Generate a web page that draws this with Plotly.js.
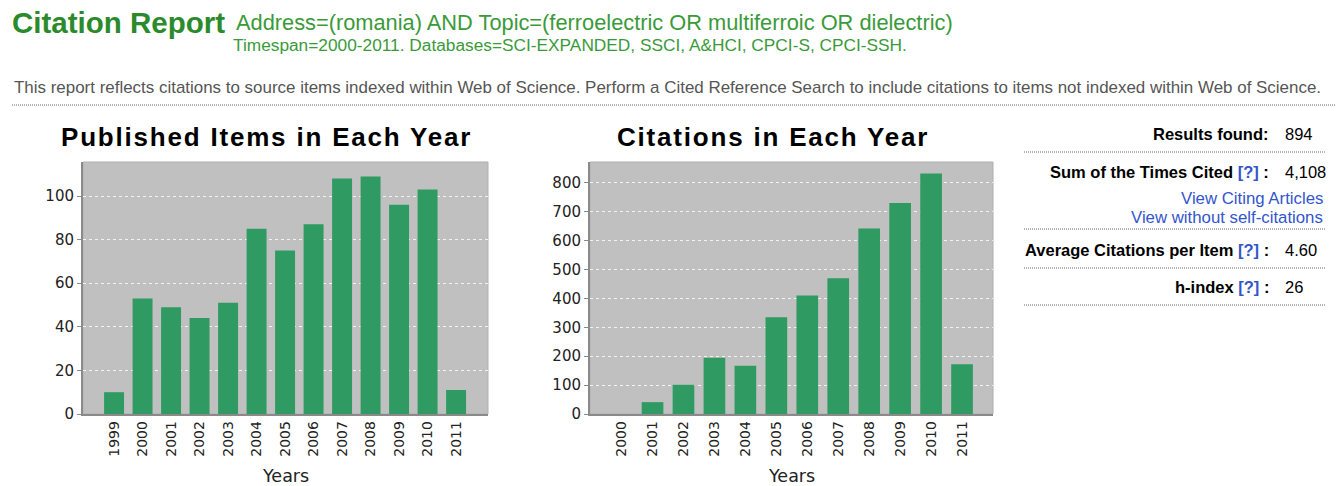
<!DOCTYPE html>
<html>
<head>
<meta charset="utf-8">
<script src="https://cdn.plot.ly/plotly-3.0.1.min.js"></script>
<style>
html,body{margin:0;padding:0;background:#fff;}
#chart{width:1339px;height:486px;}
</style>
</head>
<body>
<div id="chart"></div>
<script>
// ---- data ----
var pubYears = ["1999","2000","2001","2002","2003","2004","2005","2006","2007","2008","2009","2010","2011"];
var pubCounts = [10, 53, 49, 44, 51, 85, 75, 87, 108, 109, 96, 103, 11];
var citYears = ["2000","2001","2002","2003","2004","2005","2006","2007","2008","2009","2010","2011"];
var citCounts = [0, 41, 101, 195, 167, 335, 410, 470, 642, 730, 832, 172];
var pubTicks = [0, 20, 40, 60, 80, 100];
var citTicks = [0, 100, 200, 300, 400, 500, 600, 700, 800];

var W = 1339, H = 486;
function px(x){ return x / W; }
function py(y){ return 1 - y / H; }

var GREEN = "#2f9a62";
var PLOTBG = "#c0c0c0";
var TICKFONT = {family: "DejaVu Sans", size: 14, color: "#222"};

var traces = [
  {type: "bar", x: pubYears, y: pubCounts, xaxis: "x", yaxis: "y",
   marker: {color: GREEN}, width: 0.7, hoverinfo: "x+y"},
  {type: "bar", x: citYears, y: citCounts, xaxis: "x2", yaxis: "y2",
   marker: {color: GREEN}, width: 0.7, hoverinfo: "x+y"}
];

function xAx(domain, range, anchor){
  return {domain: domain, anchor: anchor, type: "category", range: range,
    tickangle: -90, tickfont: TICKFONT, showgrid: false, zeroline: false,
    showline: true, linecolor: "#8a8a8a", linewidth: 1.5, ticks: "", fixedrange: true};
}
function yAx(domain, range, tickvals, anchor){
  return {domain: domain, anchor: anchor, range: range, tickvals: tickvals,
    tickfont: {family: "DejaVu Sans", size: 15, color: "#222"},
    showgrid: true, gridcolor: "rgba(255,255,255,0.8)", griddash: "3px,3px", gridwidth: 1,
    zeroline: false, showline: true, linecolor: "#8a8a8a", linewidth: 2,
    ticks: "outside", ticklen: 4, tickcolor: "#8a8a8a", fixedrange: true};
}

var yDom = [py(414), py(162)];

var shapes = [];
// plot backgrounds
shapes.push({type:"rect", xref:"paper", yref:"paper", x0:px(83), x1:px(488), y0:yDom[0], y1:yDom[1],
  fillcolor: PLOTBG, line:{color:"#b0b0b0", width:1}, layer:"below"});
shapes.push({type:"rect", xref:"paper", yref:"paper", x0:px(590), x1:px(993), y0:yDom[0], y1:yDom[1],
  fillcolor: PLOTBG, line:{color:"#b0b0b0", width:1}, layer:"below"});
// dotted separators
function dotted(x0, x1, y){
  shapes.push({type:"line", xref:"paper", yref:"paper", x0:px(x0), x1:px(x1), y0:py(y), y1:py(y),
    line:{color:"#666", width:1, dash:"1px,1px"}});
}
dotted(12, 1335, 105);
dotted(1024, 1325, 152);
dotted(1024, 1325, 229);
dotted(1024, 1325, 268);
dotted(1024, 1325, 305);

var ann = [];
function txt(x, y, text, font, xanchor){
  ann.push({xref:"paper", yref:"paper", x:px(x), y:py(y), text:text, showarrow:false,
    xanchor: xanchor || "left", yanchor:"middle", font: font});
}
var SANS = "Liberation Sans, Arial, sans-serif";
txt(10, 22, "<b>Citation Report</b>", {family: SANS, size: 29.5, color: "#2b8a2b"});
txt(234, 23, "Address=(romania) AND Topic=(ferroelectric OR multiferroic OR dielectric)", {family: SANS, size: 21.8, color: "#3a9a3a"});
txt(231, 45, "Timespan=2000-2011. Databases=SCI-EXPANDED, SSCI, A&amp;HCI, CPCI-S, CPCI-SSH.", {family: SANS, size: 17.3, color: "#3a9a3a"});
txt(12, 87, "This report reflects citations to source items indexed within Web of Science. Perform a Cited Reference Search to include citations to items not indexed within Web of Science.", {family: SANS, size: 16.95, color: "#555"});

// chart titles
var TS = "<span style='letter-spacing:1.8px'>";
txt(266, 137, "<b>" + TS + "Published Items in Each Year</span></b>", {family: SANS, size: 26, color: "#000"}, "center");
txt(773, 137, "<b>" + TS + "Citations in Each Year</span></b>", {family: SANS, size: 26, color: "#000"}, "center");
// axis titles
txt(285, 476, "Years", {family: "DejaVu Sans", size: 17.5, color: "#222"}, "center");
txt(791, 476, "Years", {family: "DejaVu Sans", size: 17.5, color: "#222"}, "center");

// right info panel
var BLUE = "#3355cc";
var LB = {family: SANS, size: 16.5, color: "#000"};
var VAL = {family: SANS, size: 16.5, color: "#000"};
txt(1271, 134, "<b>Results found:</b>", LB, "right");
txt(1283, 134, "894", VAL);
txt(1271, 172, "<b>Sum of the Times Cited <span style='color:" + BLUE + "'>[?]</span> :</b>", LB, "right");
txt(1283, 172, "4,108", VAL);
txt(1325, 198, "View Citing Articles", {family: SANS, size: 16.8, color: BLUE}, "right");
txt(1325, 217, "View without self-citations", {family: SANS, size: 16.8, color: BLUE}, "right");
txt(1271, 250, "<b>Average Citations per Item <span style='color:" + BLUE + "'>[?]</span> :</b>", LB, "right");
txt(1283, 250, "4.60", VAL);
txt(1271, 287, "<b>h-index <span style='color:" + BLUE + "'>[?]</span> :</b>", LB, "right");
txt(1283, 287, "26", VAL);

var layout = {
  width: W, height: H, margin: {l:0, r:0, t:0, b:0},
  paper_bgcolor: "#fff", plot_bgcolor: "rgba(0,0,0,0)",
  showlegend: false, bargap: 0.3,
  xaxis: xAx([px(83), px(488)], [-1.09, 13.12], "y"),
  yaxis: yAx(yDom, [0, 115.6], pubTicks, "x"),
  xaxis2: xAx([px(590), px(993)], [-1.02, 12.0], "y2"),
  yaxis2: yAx(yDom, [0, 872], citTicks, "x2"),
  shapes: shapes,
  annotations: ann
};

Plotly.newPlot("chart", traces, layout, {displayModeBar: false, staticPlot: true});
</script>
</body>
</html>
